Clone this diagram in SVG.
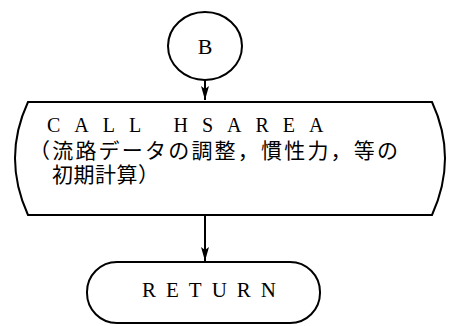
<svg xmlns="http://www.w3.org/2000/svg" width="449" height="326" viewBox="0 0 449 326">
<defs>
<style>
.s{fill:none;stroke:#000;stroke-width:2}
.n{fill:#fff;stroke:#000;stroke-width:2}
.t{font-family:"Liberation Serif","DejaVu Serif",serif;fill:#000}
.j{font-family:"Noto Sans CJK JP","Noto Sans",sans-serif;fill:#000}
</style>
<marker id="ah" markerWidth="14" markerHeight="8" refX="14" refY="4" orient="auto" markerUnits="userSpaceOnUse" viewBox="0 0 14 8">
<path d="M0,0 L14,4 L0,8 L3,4 Z" fill="#000"/>
</marker>
</defs>
<rect width="449" height="326" fill="#fff"/>
<g id="connectors">
<line class="s" x1="205" y1="80" x2="205" y2="100" marker-end="url(#ah)"/>
<line class="s" x1="205" y1="215" x2="205" y2="261" marker-end="url(#ah)"/>
</g>
<g id="node-B">
<ellipse class="n" cx="205" cy="46" rx="37" ry="34"/>
<text class="t" x="205" y="54" font-size="22" text-anchor="middle">B</text>
</g>
<g id="node-call">
<path class="n" d="M28,102 L432,102 Q458,158 432,215 L28,215 Q2,158 28,102 Z"/>
<text class="t" x="47" y="132" font-size="20" letter-spacing="14">CALL HSAREA</text>
<text class="j" x="29" y="158" font-size="21" letter-spacing="2.2">（流路データの調整，慣性力，等の</text>
<text class="j" x="52" y="182" font-size="21" letter-spacing="0.5">初期計算）</text>
</g>
<g id="node-return">
<rect class="n" x="87" y="262" width="233" height="61" rx="30" ry="30"/>
<text class="t" x="142" y="297" font-size="21" letter-spacing="10">RETURN</text>
</g>
</svg>
